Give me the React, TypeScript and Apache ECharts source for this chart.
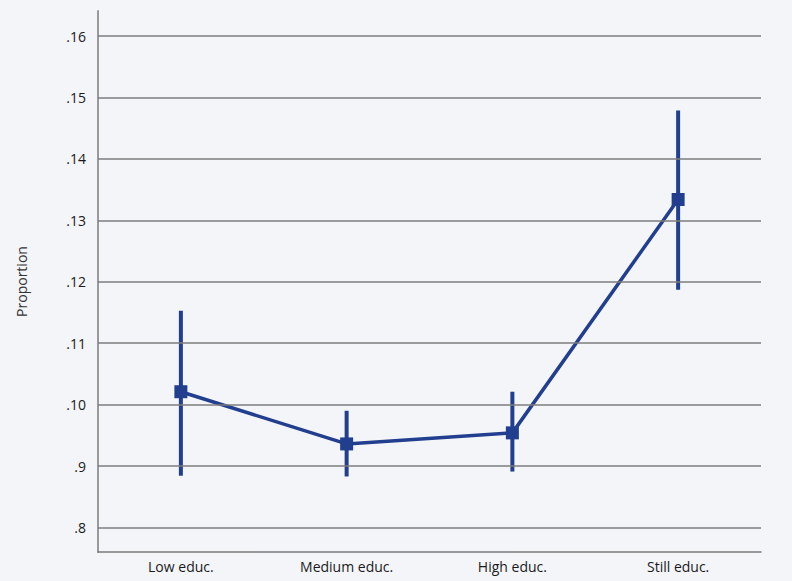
import React, { useEffect, useRef } from "react";
import * as echarts from "echarts";

const categories = ["Low educ.", "Medium educ.", "High educ.", "Still educ."];
const estimates = [0.1021, 0.0936, 0.0954, 0.1334];
const lower = [0.0884, 0.0883, 0.0891, 0.1187];
const upper = [0.1153, 0.0990, 0.1021, 0.1479];
const yTicks = [0.08, 0.09, 0.1, 0.11, 0.12, 0.13, 0.14, 0.15, 0.16];

const NAVY = "#213f8e";
const FONT = "'Open Sans', 'Noto Sans', sans-serif";

export default function App() {
  const ref = useRef<HTMLDivElement>(null);
  useEffect(() => {
    if (!ref.current) return;
    const chart = echarts.init(ref.current, undefined, { renderer: "svg" });
    const ciData = categories.map((_, i) => [i, lower[i], upper[i]]);
    chart.setOption({
      animation: false,
      backgroundColor: "#f4f5f9",
      grid: { left: 98, right: 31, top: 11, bottom: 29, containLabel: false },
      xAxis: {
        type: "category",
        data: categories,
        boundaryGap: true,
        axisLine: { show: true, lineStyle: { color: "#7a7a7a", width: 1.5 } },
        axisTick: { show: false },
        axisLabel: { color: "#1a1a1a", fontSize: 14, fontFamily: FONT, margin: 7 },
        splitLine: { show: false },
      },
      yAxis: {
        type: "value",
        min: 0.076,
        max: 0.1641,
        name: "Proportion",
        nameLocation: "middle",
        nameGap: 70,
        nameTextStyle: { color: "#333", fontSize: 14, fontFamily: FONT },
        axisLine: { show: true, lineStyle: { color: "#9a9a9a", width: 2 } },
        axisTick: { show: false, customValues: yTicks },
        axisLabel: {
          customValues: yTicks,
          color: "#1a1a1a",
          fontSize: 14,
          fontFamily: FONT,
          margin: 12,
          formatter: (v: number) => "." + Math.round(v * 100),
        },
        splitLine: { show: false },
      },
      series: [
        {
          type: "line",
          data: [],
          silent: true,
          z: 1,
          markLine: {
            silent: true,
            symbol: "none",
            label: { show: false },
            lineStyle: { color: "#7c7c7c", width: 1.5, type: "solid" },
            data: yTicks.map((v) => ({ yAxis: v })),
          },
        },
        {
          type: "custom",
          z: 3,
          data: ciData,
          renderItem: (params: any, api: any) => {
            const x = api.value(0);
            const lo = api.coord([x, api.value(1)]);
            const hi = api.coord([x, api.value(2)]);
            return {
              type: "line",
              shape: { x1: lo[0], y1: lo[1], x2: hi[0], y2: hi[1] },
              style: { stroke: NAVY, lineWidth: 4 },
            };
          },
        },
        {
          type: "line",
          z: 4,
          data: estimates,
          symbol: "rect",
          symbolSize: 13,
          showSymbol: true,
          lineStyle: { color: NAVY, width: 3.5 },
          itemStyle: { color: NAVY },
        },
      ],
    });
    return () => chart.dispose();
  }, []);
  return <div ref={ref} style={{ width: 792, height: 581, position: "absolute", left: 0, top: 0 }} />;
}
